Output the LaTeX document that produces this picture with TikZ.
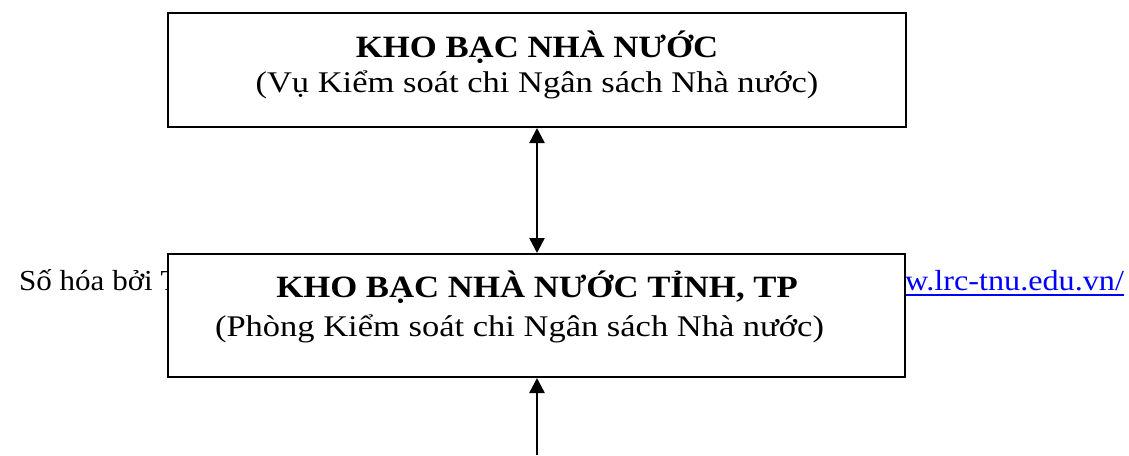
\documentclass[tikz,border=0pt]{standalone}
\usepackage{fontspec}
\setmainfont{Liberation Serif}
\newfontfamily\titlefam[FakeStretch=1.12]{Liberation Serif}
\newfontfamily\subfam[FakeStretch=1.15]{Liberation Serif}
\newfontfamily\footfam[FakeStretch=1.11]{Liberation Serif}
\newfontfamily\leftfam[FakeStretch=1.07]{Liberation Serif}
\usetikzlibrary{arrows.meta}
\definecolor{linkblue}{RGB}{0,0,255}
\tikzset{
  box/.style={draw=black, line width=2pt, fill=white, rectangle, inner sep=0pt},
  titletext/.style={anchor=base, inner sep=0pt, font=\titlefam\fontsize{31}{36}\selectfont\bfseries},
  subtext/.style={anchor=base, inner sep=0pt, font=\subfam\fontsize{30}{36}\selectfont},
  foottext/.style={anchor=base west, inner sep=0pt, font=\footfam\fontsize{29}{34}\selectfont},
  lefttext/.style={anchor=base west, inner sep=0pt, font=\leftfam\fontsize{29}{34}\selectfont},
  link/.style={foottext, text=linkblue},
  conn/.style={line width=2.5pt, -{Triangle[length=15pt,width=15pt]}},
  bothconn/.style={line width=2.5pt, {Triangle[length=15pt,width=15pt]}-{Triangle[length=15pt,width=15pt]}}
}
\begin{document}
\begin{tikzpicture}[x=1pt,y=-1pt]
\useasboundingbox (0,0) rectangle (1129,455);
\fill[white] (0,0) rectangle (1129,455);
% background footer text (partly covered by the box)
\node[lefttext] (foot) at (19,290) {Số hóa bởi T};
\node[link] (url) at (905,290) {w.lrc-tnu.edu.vn/};
\draw[linkblue, line width=1.5pt] (url.base west) ++(0,5) -- (url.base east |- 0,295);
% boxes
\node[box, minimum width=738pt, minimum height=114pt] (top) at (537,70) {};
\node[box, minimum width=737pt, minimum height=123pt] (mid) at (536.5,315.5) {};
% texts
\node[titletext] (t1) at (537,57) {KHO BẠC NHÀ NƯỚC};
\node[subtext] (s1) at (537,92) {(Vụ Kiểm soát chi Ngân sách Nhà nước)};
\node[titletext] (t2) at (537,297) {KHO BẠC NHÀ NƯỚC TỈNH, TP};
\node[subtext] (s2) at (519.5,336) {(Phòng Kiểm soát chi Ngân sách Nhà nước)};
% connectors
\coordinate (bottom) at (537,455);
\draw[bothconn] (top.south -| 537,0) -- (mid.north -| 537,0);
\draw[conn] (bottom) -- (mid.south -| 537,0);
\end{tikzpicture}
\end{document}
